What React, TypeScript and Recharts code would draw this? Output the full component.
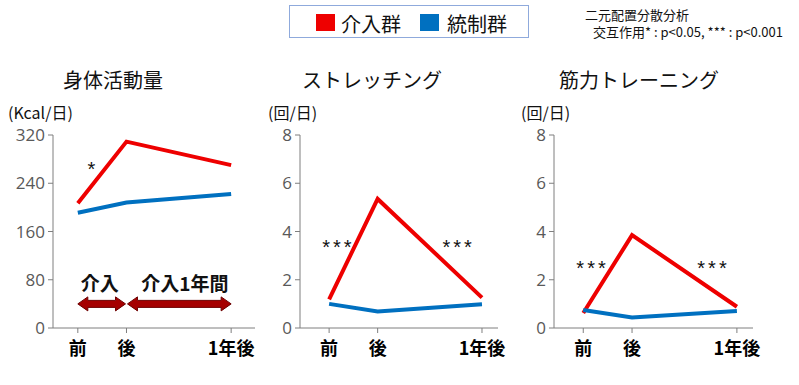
import { LineChart, Line, XAxis, YAxis, ReferenceDot, ReferenceLine } from 'recharts';

// time points: before, after, 1 year after (spacing)
const times = [0, 1, 3.15];
const timeLabels = ['前', '後', '1年後'];

const activityIntervention = [207, 309, 270];
const activityControl = [191, 208, 222];
const activityTicks = [0, 80, 160, 240, 320];

const stretchIntervention = [1.19, 5.35, 1.26];
const stretchControl = [1.0, 0.68, 0.98];

const strengthIntervention = [0.62, 3.85, 0.88];
const strengthControl = [0.75, 0.44, 0.7];

const countTicks = [0, 2, 4, 6, 8];

const RED = '#ee0000';
const BLUE = '#0070c0';
const AXIS = '#7f7f7f';
const FONT = '"Noto Sans CJK JP", "Noto Sans", sans-serif';
const STAR_FONT = '"Liberation Sans", sans-serif';

type Mark = { x: number; y: number; text: string; size?: number; bold?: boolean; star?: boolean };

const buildRows = (a: number[], b: number[]) =>
  times.map((t, i) => ({ t, intervention: a[i], control: b[i] }));

const tickLabel = (v: number) => {
  const i = times.indexOf(v);
  return i >= 0 ? timeLabels[i] : '';
};

const TextMark = (props: any) => {
  const { cx, cy, text, size, bold, star } = props;
  return (
    <text x={cx} y={star ? cy + 4 : cy} textAnchor="middle" dominantBaseline="central"
      fontSize={size} fontWeight={bold ? 700 : 400} fill="#111"
      fontFamily={star ? STAR_FONT : FONT} letterSpacing={star ? 3 : 0}>
      {text}
    </text>
  );
};

const ArrowShape = (props: any) => {
  const { x1, x2, y1 } = props;
  if (x1 == null || x2 == null || y1 == null) return null;
  const h = 10;
  const head = 7;
  const shaft = 3.5;
  const pts = [
    [x1, y1],
    [x1 + h, y1 - head],
    [x1 + h, y1 - shaft],
    [x2 - h, y1 - shaft],
    [x2 - h, y1 - head],
    [x2, y1],
    [x2 - h, y1 + head],
    [x2 - h, y1 + shaft],
    [x1 + h, y1 + shaft],
    [x1 + h, y1 + head],
  ].map((p) => p.join(',')).join(' ');
  return <polygon points={pts} fill="#a50000" stroke="#6b0000" strokeWidth={1} />;
};

interface PanelProps {
  left: number;
  width: number;
  marginLeft: number;
  marginRight: number;
  intervention: number[];
  control: number[];
  yMax: number;
  yTicks: number[];
  xDomain: [number, number];
  marks: Mark[];
  arrows?: [number, number, number][];
}

function Panel({ left, width, marginLeft, marginRight, intervention, control, yMax, yTicks, xDomain, marks, arrows }: PanelProps) {
  const rows = buildRows(intervention, control);
  return (
    <div style={{ position: 'absolute', left, top: 0 }}>
      <LineChart width={width} height={385} data={rows}
        margin={{ top: 135, right: marginRight, left: marginLeft, bottom: 17 }}>
        <XAxis dataKey="t" type="number" domain={xDomain} ticks={times} allowDataOverflow
          tickFormatter={tickLabel} height={40} stroke={AXIS} tickSize={5} tickMargin={9}
          tick={{ fill: '#000', fontSize: 18, fontWeight: 700, fontFamily: FONT }} />
        <YAxis domain={[0, yMax]} ticks={yTicks} width={45} stroke={AXIS} tickSize={5} tickMargin={3}
          tick={{ fill: '#595959', fontSize: 17, fontFamily: '"Open Sans", sans-serif' }} />
        <Line dataKey="intervention" stroke={RED} strokeWidth={4} dot={false} isAnimationActive={false} />
        <Line dataKey="control" stroke={BLUE} strokeWidth={4} dot={false} isAnimationActive={false} />
        {arrows?.map(([a, b, y], i) => (
          <ReferenceLine key={`a${i}`} segment={[{ x: a, y }, { x: b, y }]} shape={ArrowShape} ifOverflow="visible" />
        ))}
        {marks.map((m, i) => (
          <ReferenceDot key={`m${i}`} x={m.x} y={m.y} r={0} ifOverflow="visible"
            shape={(p: any) => <TextMark {...p} text={m.text} size={m.size ?? 20} bold={m.bold} star={m.star} />} />
        ))}
      </LineChart>
    </div>
  );
}

export default function App() {
  return (
    <div style={{ position: 'absolute', left: 0, top: 0, width: 799, height: 385, background: '#fff', fontFamily: FONT }}>
      <Panel left={0} width={270} marginLeft={8} marginRight={15}
        intervention={activityIntervention} control={activityControl}
        yMax={320} yTicks={activityTicks} xDomain={[-0.51, 3.64]}
        marks={[
          { x: 0.31, y: 270, text: '*', star: true },
          { x: 0.45, y: 76, text: '介入', size: 19, bold: true },
          { x: 2.2, y: 76, text: '介入1年間', size: 19, bold: true },
        ]}
        arrows={[[0, 0.98, 40], [1.02, 3.15, 40]]} />
      <Panel left={250} width={265} marginLeft={5} marginRight={17}
        intervention={stretchIntervention} control={stretchControl}
        yMax={8} yTicks={countTicks} xDomain={[-0.6, 3.48]}
        marks={[
          { x: 0.19, y: 3.52, text: '***', star: true },
          { x: 2.67, y: 3.52, text: '***', star: true },
        ]} />
      <Panel left={505} width={265} marginLeft={4} marginRight={17}
        intervention={strengthIntervention} control={strengthControl}
        yMax={8} yTicks={countTicks} xDomain={[-0.6, 3.48]}
        marks={[
          { x: 0.19, y: 2.65, text: '***', star: true },
          { x: 2.67, y: 2.65, text: '***', star: true },
        ]} />
      <svg width={799} height={385} style={{ position: 'absolute', left: 0, top: 0, pointerEvents: 'none' }} fontFamily={FONT}>
        <rect x={289.5} y={5.5} width={239} height={32} fill="#fff" stroke="#8faadc" strokeWidth={1} />
        <rect x={316} y={14} width={19} height={17} fill={RED} />
        <text x={341} y={23} dominantBaseline="central" fontSize={20} fill="#111">介入群</text>
        <rect x={420} y={14} width={19} height={17} fill={BLUE} />
        <text x={447} y={23} dominantBaseline="central" fontSize={20} fill="#111">統制群</text>

        <text x={585} y={14} dominantBaseline="central" fontSize={13} fill="#111">二元配置分散分析</text>
        <text x={593} y={31} dominantBaseline="central" fontSize={13} fill="#111">交互作用* : p&lt;0.05, *** : p&lt;0.001</text>

        <text x={113} y={79} textAnchor="middle" dominantBaseline="central" fontSize={20} fill="#111">身体活動量</text>
        <text x={372} y={79} textAnchor="middle" dominantBaseline="central" fontSize={20} fill="#111">ストレッチング</text>
        <text x={639} y={79} textAnchor="middle" dominantBaseline="central" fontSize={20} fill="#111">筋力トレーニング</text>

        <text x={8} y={112} dominantBaseline="central" fontSize={16} fill="#111">(Kcal/日)</text>
        <text x={268} y={112} dominantBaseline="central" fontSize={16} fill="#111">(回/日)</text>
        <text x={521} y={112} dominantBaseline="central" fontSize={16} fill="#111">(回/日)</text>
      </svg>
    </div>
  );
}
